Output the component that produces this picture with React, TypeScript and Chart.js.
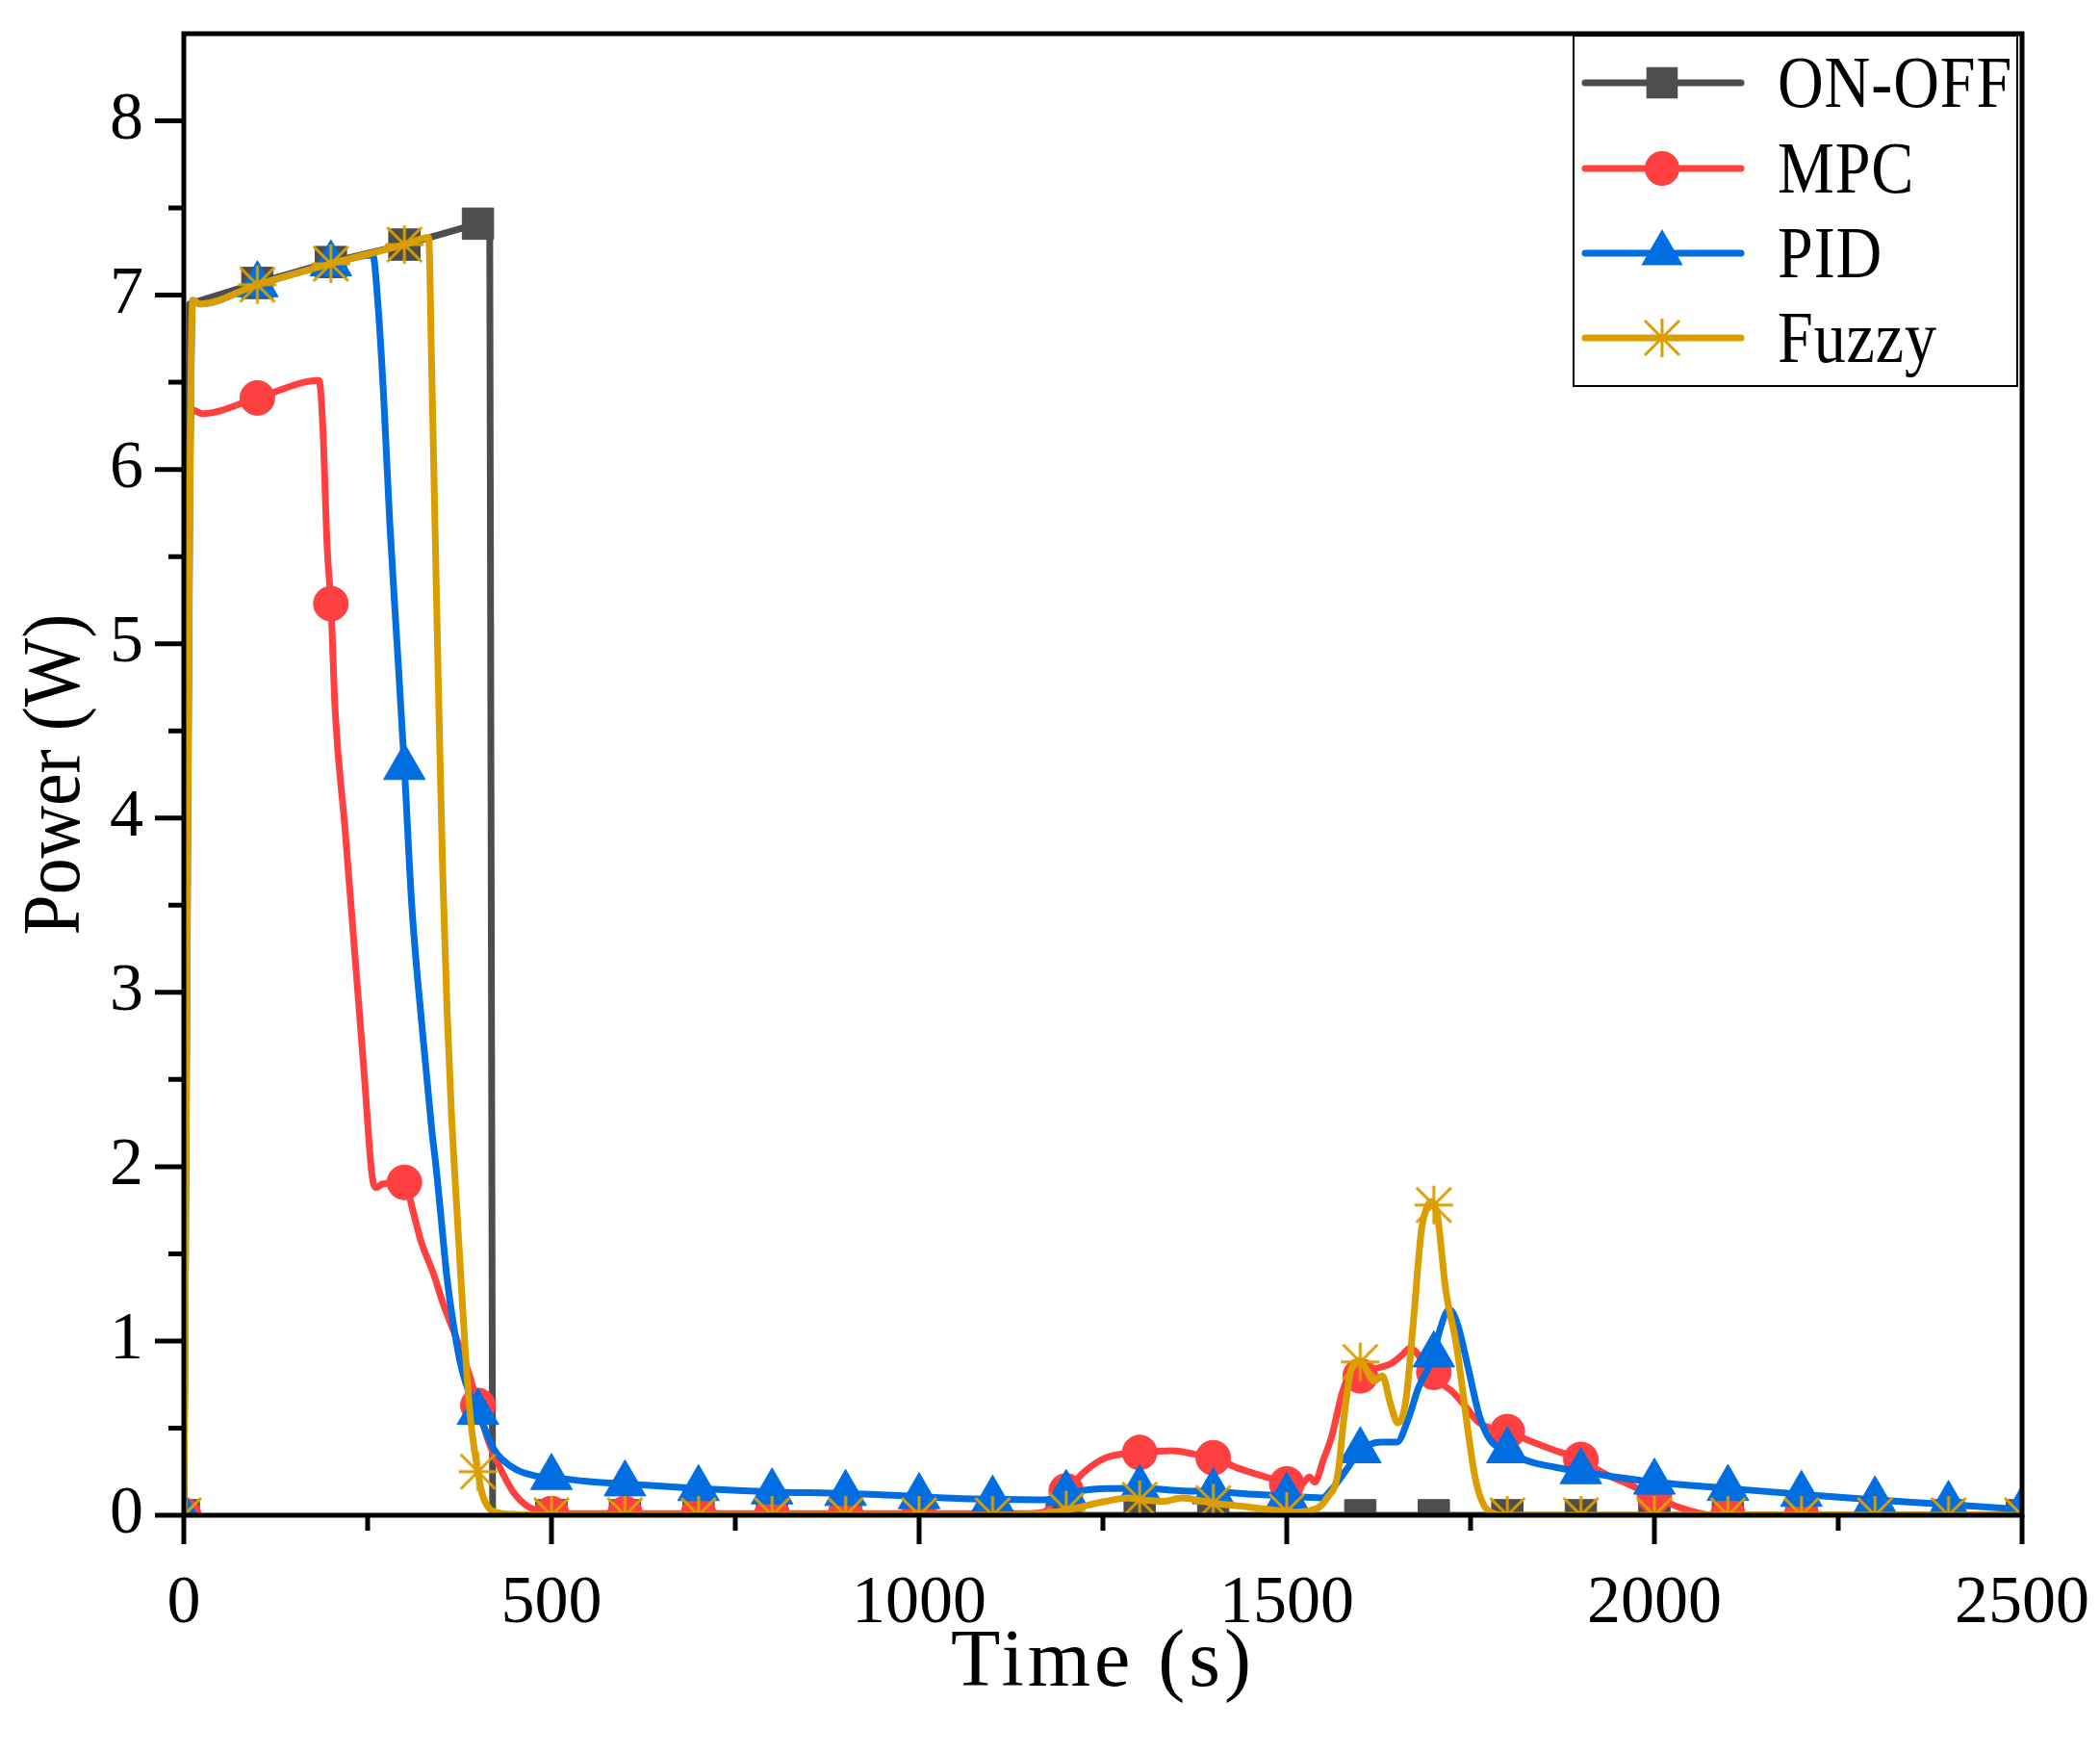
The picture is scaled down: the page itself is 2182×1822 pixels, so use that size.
import React, { useEffect, useRef } from 'react';
import { Chart, registerables } from 'chart.js';

Chart.register(...registerables);

// ---------- data ----------
const seriesNames = ['ON-OFF', 'MPC', 'PID', 'Fuzzy'];

const onOffTime = [0, 8, 100, 200, 300, 400, 416, 420, 500, 600, 700, 800, 900, 1000, 1100, 1200, 1300, 1400, 1500, 1600, 1700, 1800, 1900, 2000, 2100, 2200, 2300, 2400, 2500];
const onOffPower = [0, 6.95, 7.07, 7.19, 7.29, 7.41, 7.43, 0, 0, 0, 0, 0, 0, 0, 0, 0, 0, 0, 0, 0, 0, 0, 0, 0, 0, 0, 0, 0, 0];

const mpcTime = [0, 8, 12, 25, 100, 184, 189, 195, 200, 206, 219, 232, 245, 256, 262, 270, 300, 312, 322, 340, 353, 373, 388, 400, 413, 428, 448, 468, 488, 500, 600, 700, 800, 900, 1000, 1100, 1150, 1171, 1186, 1200, 1225, 1254, 1300, 1345, 1375, 1400, 1434, 1479, 1500, 1520, 1531, 1538, 1550, 1561, 1576, 1591, 1600, 1620, 1642, 1657, 1668, 1679, 1694, 1700, 1710, 1725, 1740, 1762, 1800, 1829, 1866, 1900, 1932, 1969, 2000, 2034, 2063, 2080, 2100, 2200, 2300, 2400, 2500];
const mpcPower = [0, 6.2, 6.34, 6.32, 6.41, 6.51, 6.25, 5.55, 5.23, 4.6, 3.95, 3.25, 2.55, 1.95, 1.88, 1.9, 1.91, 1.74, 1.58, 1.38, 1.21, 0.99, 0.81, 0.63, 0.44, 0.29, 0.134, 0.05, 0.018, 0.01, 0.01, 0.01, 0.01, 0.01, 0.01, 0.01, 0.01, 0.02, 0.11, 0.14, 0.25, 0.33, 0.36, 0.37, 0.35, 0.33, 0.27, 0.21, 0.18, 0.18, 0.22, 0.19, 0.32, 0.45, 0.71, 0.84, 0.8, 0.84, 0.87, 0.92, 0.96, 0.92, 0.8, 0.82, 0.76, 0.71, 0.64, 0.53, 0.48, 0.43, 0.37, 0.32, 0.24, 0.17, 0.11, 0.045, 0.01, 0, 0, 0, 0, 0, 0];

const pidTime = [0, 12, 22, 100, 200, 257, 264, 272, 280, 290, 300, 310, 324, 337, 343, 350, 358, 368, 378, 390, 400, 410, 420, 433, 453, 478, 500, 548, 600, 700, 800, 900, 1000, 1059, 1100, 1171, 1200, 1254, 1300, 1360, 1400, 1457, 1500, 1548, 1559, 1581, 1600, 1628, 1650, 1665, 1679, 1700, 1706, 1721, 1732, 1747, 1762, 1777, 1800, 1829, 1866, 1900, 2000, 2100, 2200, 2300, 2400, 2500];
const pidPower = [0, 6.97, 6.95, 7.06, 7.18, 7.23, 6.95, 6.4, 5.7, 5.0, 4.29, 3.5, 2.8, 2.22, 2.0, 1.7, 1.36, 1.06, 0.84, 0.68, 0.59, 0.49, 0.39, 0.32, 0.26, 0.226, 0.217, 0.195, 0.18, 0.153, 0.134, 0.125, 0.107, 0.095, 0.092, 0.088, 0.125, 0.153, 0.155, 0.14, 0.135, 0.12, 0.11, 0.1, 0.138, 0.26, 0.37, 0.42, 0.42, 0.55, 0.73, 0.92, 1.03, 1.18, 1.1, 0.84, 0.57, 0.43, 0.37, 0.31, 0.275, 0.25, 0.19, 0.154, 0.12, 0.088, 0.062, 0.033];

const fuzzyTime = [0, 12, 22, 100, 200, 300, 333, 337, 341, 346, 352, 358, 364, 370, 376, 383, 390, 400, 406, 415, 427, 450, 500, 600, 700, 800, 900, 1000, 1100, 1150, 1171, 1200, 1254, 1284, 1300, 1334, 1357, 1387, 1400, 1450, 1488, 1500, 1510, 1540, 1555, 1570, 1577, 1588, 1600, 1619, 1630, 1641, 1651, 1662, 1672, 1683, 1690, 1697, 1700, 1705, 1716, 1731, 1745, 1756, 1767, 1782, 1800, 1900, 2000, 2100, 2200, 2300, 2400, 2500];
const fuzzyPower = [0, 6.97, 6.95, 7.06, 7.18, 7.29, 7.33, 6.6, 5.8, 4.8, 3.7, 2.9, 2.3, 1.85, 1.42, 0.93, 0.55, 0.25, 0.12, 0.04, 0.015, 0.005, 0, 0, 0, 0, 0, 0, 0, 0.005, 0.01, 0.03, 0.08, 0.1, 0.09, 0.08, 0.1, 0.08, 0.07, 0.046, 0.028, 0.022, 0.018, 0.037, 0.1, 0.25, 0.53, 0.84, 0.88, 0.77, 0.8, 0.64, 0.53, 0.66, 1.1, 1.63, 1.76, 1.8, 1.78, 1.72, 1.3, 0.97, 0.53, 0.22, 0.066, 0.01, 0, 0, 0, 0, 0, 0, 0, 0];

const xTickValues = [0, 250, 500, 750, 1000, 1250, 1500, 1750, 2000, 2250, 2500];
const yTickValues = [0, 0.5, 1, 1.5, 2, 2.5, 3, 3.5, 4, 4.5, 5, 5.5, 6, 6.5, 7, 7.5, 8];

// ---------- styles ----------
const COLORS = ['#4D4D4D', '#FF4040', '#006EE0', '#DB9E00'];
const MARKER_STEP = 100;
const FONT = '"Liberation Serif", "Times New Roman", serif';

function pairs(t: number[], p: number[]) {
  return t.map((x, i) => ({ x, y: p[i] }));
}

function makeAsterisk(color: string) {
  const c = document.createElement('canvas');
  c.width = 42;
  c.height = 42;
  const g = c.getContext('2d')!;
  g.strokeStyle = color;
  g.lineWidth = 3;
  g.beginPath();
  g.moveTo(21, 1); g.lineTo(21, 41);
  g.moveTo(1, 21); g.lineTo(41, 21);
  g.moveTo(3, 3); g.lineTo(39, 39);
  g.moveTo(39, 3); g.lineTo(3, 39);
  g.stroke();
  return c;
}

const zeroPadding = (s: any) => {
  s.paddingTop = 0;
  s.paddingBottom = 0;
  s.paddingLeft = 0;
  s.paddingRight = 0;
};

export default function App() {
  const ref = useRef<HTMLCanvasElement>(null);

  useEffect(() => {
    document.body.style.margin = '0';
    const canvas = ref.current!;
    const asterisk = makeAsterisk(COLORS[3]);
    const styles: any[] = ['rect', 'circle', 'triangle', asterisk];
    const radii = [23, 18, 25, 20];

    const markerRadius = (r: number) => (ctx: any) => {
      const raw = ctx.raw;
      return raw && raw.x % MARKER_STEP === 0 ? r : 0;
    };

    const sets = [
      pairs(onOffTime, onOffPower),
      pairs(mpcTime, mpcPower),
      pairs(pidTime, pidPower),
      pairs(fuzzyTime, fuzzyPower),
    ];

    const datasets = sets.map((data, i) => ({
      label: seriesNames[i],
      data,
      borderColor: COLORS[i],
      backgroundColor: COLORS[i],
      borderWidth: 7,
      borderJoinStyle: 'round' as const,
      borderCapStyle: 'round' as const,
      tension: 0,
      cubicInterpolationMode: i === 0 ? ('default' as const) : ('monotone' as const),
      pointStyle: styles[i],
      pointRadius: markerRadius(radii[i]),
      pointHoverRadius: markerRadius(radii[i]),
      pointBackgroundColor: COLORS[i],
      pointBorderColor: COLORS[i],
      pointBorderWidth: 1,
      clip: 0,
      order: 4 - i,
    }));

    const decor = {
      id: 'decor',
      afterDraw(chart: any) {
        const ctx = chart.ctx as CanvasRenderingContext2D;
        const a = chart.chartArea;
        const xs = chart.scales.x;
        const ys = chart.scales.y;

        // legend
        const L = a.right - 466, T = a.top + 2, R = a.right - 5, B = a.top + 366;
        ctx.save();
        ctx.fillStyle = '#fff';
        ctx.fillRect(L, T, R - L, B - T);
        ctx.strokeStyle = '#000';
        ctx.lineWidth = 2;
        ctx.strokeRect(L, T, R - L, B - T);
        const rowY = [51, 140, 228, 316];
        seriesNames.forEach((name, i) => {
          const y = a.top + rowY[i];
          const c = COLORS[i];
          ctx.strokeStyle = c;
          ctx.lineWidth = 7;
          ctx.lineCap = 'round';
          ctx.beginPath();
          ctx.moveTo(L + 12, y);
          ctx.lineTo(L + 174, y);
          ctx.stroke();
          const mx = L + 92;
          ctx.fillStyle = c;
          if (i === 0) {
            const s = radii[0] * Math.SQRT1_2;
            ctx.fillRect(mx - s, y - s, 2 * s, 2 * s);
          } else if (i === 1) {
            ctx.beginPath();
            ctx.arc(mx, y, radii[1], 0, Math.PI * 2);
            ctx.fill();
          } else if (i === 2) {
            const r = radii[2];
            ctx.beginPath();
            ctx.moveTo(mx, y - r);
            ctx.lineTo(mx + r * Math.sin(Math.PI / 3), y + r / 2);
            ctx.lineTo(mx - r * Math.sin(Math.PI / 3), y + r / 2);
            ctx.closePath();
            ctx.fill();
          } else {
            ctx.drawImage(asterisk, mx - asterisk.width / 2, y - asterisk.height / 2);
          }
          ctx.save();
          ctx.fillStyle = '#000';
          ctx.font = `76px ${FONT}`;
          ctx.textAlign = 'left';
          ctx.textBaseline = 'alphabetic';
          ctx.translate(L + 212, y + 25);
          ctx.scale(0.87, 1);
          (ctx as any).letterSpacing = '1px';
          ctx.fillText(name, 0, 0);
          ctx.restore();
        });

        // frame
        ctx.strokeStyle = '#000';
        ctx.lineWidth = 5;
        ctx.lineCap = 'butt';
        ctx.strokeRect(a.left, a.top, a.right - a.left, a.bottom - a.top);

        // ticks
        ctx.beginPath();
        xTickValues.forEach((v) => {
          const px = xs.getPixelForValue(v);
          const len = v % 500 === 0 ? 30 : 16;
          ctx.moveTo(px, a.bottom);
          ctx.lineTo(px, a.bottom + len);
        });
        yTickValues.forEach((v) => {
          const py = ys.getPixelForValue(v);
          const len = Number.isInteger(v) ? 30 : 16;
          ctx.moveTo(a.left, py);
          ctx.lineTo(a.left - len, py);
        });
        ctx.stroke();

        // axis titles
        ctx.fillStyle = '#000';
        ctx.textAlign = 'center';
        ctx.textBaseline = 'alphabetic';
        ctx.save();
        ctx.font = `84px ${FONT}`;
        (ctx as any).letterSpacing = '4px';
        ctx.fillText('Time (s)', (a.left + a.right) / 2, 1751);
        ctx.restore();
        ctx.save();
        ctx.font = `84px ${FONT}`;
        ctx.translate(82, (a.top + a.bottom) / 2);
        ctx.rotate(-Math.PI / 2);
        ctx.scale(0.9, 1);
        ctx.fillText('Power (W)', 0, 0);
        ctx.restore();
        ctx.restore();
      },
    };

    const chart = new Chart(canvas, {
      type: 'line',
      data: { datasets: datasets as any },
      options: {
        responsive: false,
        animation: false,
        devicePixelRatio: 1,
        layout: { padding: { left: 0, top: 35, right: 81, bottom: 0 } },
        plugins: {
          legend: { display: false },
          tooltip: { enabled: false },
        },
        scales: {
          x: {
            type: 'linear',
            min: 0,
            max: 2500,
            afterFit: (s: any) => { s.height = 248; zeroPadding(s); },
            grid: { display: false, drawTicks: false },
            border: { display: false },
            ticks: {
              stepSize: 250,
              autoSkip: false,
              maxRotation: 0,
              padding: 51,
              color: '#000',
              font: { family: FONT, size: 70 },
              callback: (v: any) => (Number(v) % 500 === 0 ? String(v) : ''),
            },
          },
          y: {
            type: 'linear',
            min: 0,
            max: 8.5,
            afterFit: (s: any) => { s.width = 191; zeroPadding(s); },
            grid: { display: false, drawTicks: false },
            border: { display: false },
            ticks: {
              stepSize: 0.5,
              autoSkip: false,
              padding: 42,
              color: '#000',
              font: { family: FONT, size: 70 },
              callback: (v: any) => (Number.isInteger(Number(v)) ? String(v) : ''),
            },
          },
        },
      },
      plugins: [decor],
    });

    return () => chart.destroy();
  }, []);

  return (
    <div style={{ position: 'absolute', left: 0, top: 0, width: 2182, height: 1822, background: '#fff' }}>
      <canvas ref={ref} width={2182} height={1822} style={{ width: 2182, height: 1822, display: 'block' }} />
    </div>
  );
}
